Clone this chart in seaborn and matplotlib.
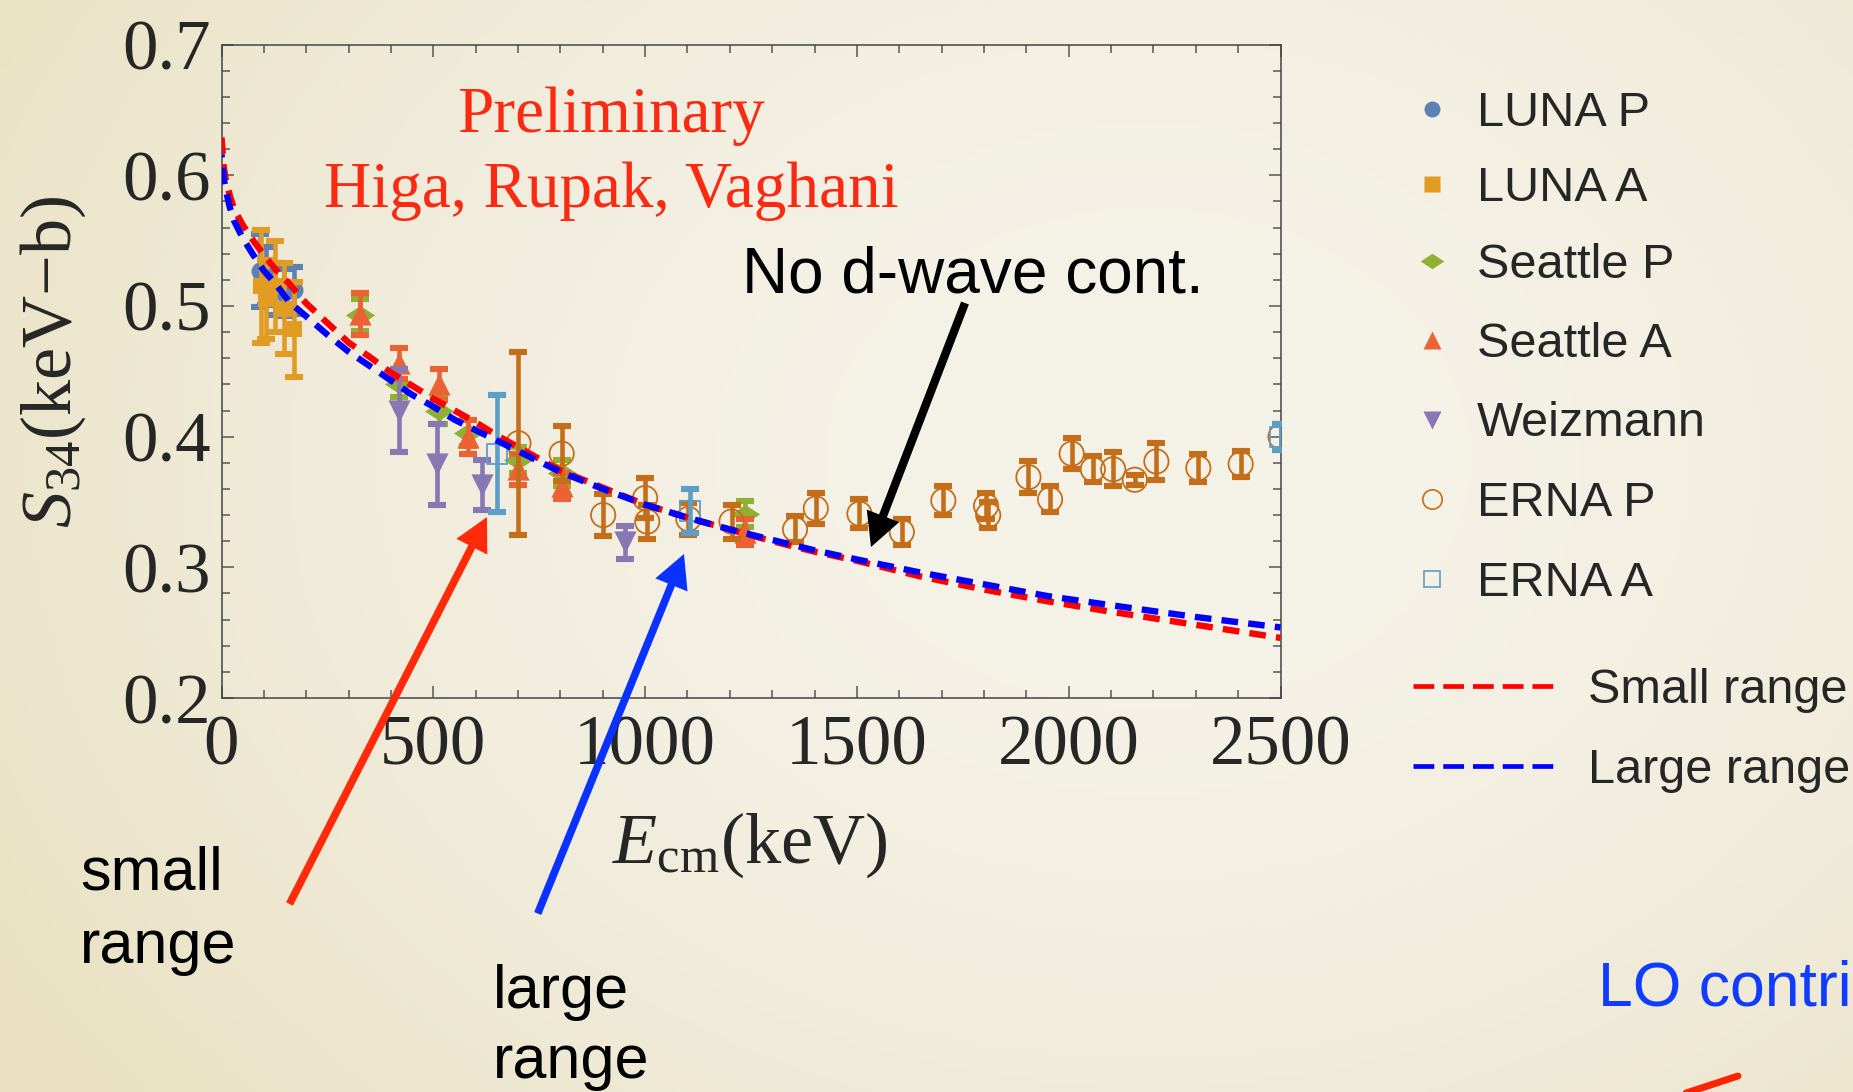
import numpy as np
import matplotlib
matplotlib.use("Agg")
import matplotlib.pyplot as plt
import seaborn as sns
from matplotlib.lines import Line2D
from matplotlib.patches import FancyArrowPatch, ArrowStyle
from matplotlib.ticker import MultipleLocator, FixedLocator, FixedFormatter

# ---------------- data ----------------
luna_p_E = [92, 106, 126, 148, 170]
luna_p_S = [0.527, 0.523, 0.513, 0.510, 0.512]
luna_p_err = [0.028, 0.022, 0.020, 0.018, 0.018]

luna_a_E = [93, 106, 126, 148, 170]
luna_a_S = [0.515, 0.505, 0.515, 0.498, 0.482]
luna_a_err = [0.043, 0.030, 0.035, 0.035, 0.036]

seattle_p_E = [327, 420, 513, 582, 701, 803, 1236]
seattle_p_S = [0.493, 0.440, 0.420, 0.403, 0.382, 0.372, 0.341]
seattle_p_err = [0.012, 0.010, 0.010, 0.010, 0.010, 0.010, 0.010]

seattle_a_E = [327, 420, 513, 582, 701, 803, 1236]
seattle_a_S = [0.494, 0.456, 0.440, 0.400, 0.375, 0.362, 0.327]
seattle_a_err = [0.016, 0.012, 0.012, 0.013, 0.012, 0.010, 0.010]

weiz_E = [420, 508, 614, 953]
weiz_S = [0.420, 0.379, 0.363, 0.319]
weiz_err = [0.032, 0.031, 0.019, 0.013]

erna_p_E = [701, 803, 901, 1000, 1005, 1102, 1204, 1354, 1403, 1506, 1606,
            1704, 1805, 1810, 1905, 1956, 2007, 2057, 2105, 2156, 2207,
            2306, 2406, 2500]
erna_p_S = [0.395, 0.387, 0.340, 0.353, 0.335, 0.337, 0.335, 0.329, 0.345,
            0.341, 0.327, 0.351, 0.347, 0.340, 0.369, 0.352, 0.387, 0.375,
            0.375, 0.367, 0.381, 0.376, 0.379, 0.400]
erna_p_err = [0.070, 0.021, 0.016, 0.015, 0.013, 0.012, 0.013, 0.010, 0.012,
              0.011, 0.010, 0.011, 0.010, 0.010, 0.012, 0.010, 0.012, 0.010,
              0.013, 0.004, 0.014, 0.011, 0.010, 0.010]

erna_a_E = [650, 1105, 2500]
erna_a_S = [0.387, 0.343, 0.400]
erna_a_err = [0.045, 0.017, 0.010]

curve_E = [0, 5, 10, 20, 30, 50, 75, 100, 130, 160, 200, 250, 300, 350, 400,
           450, 500, 550, 600, 650, 700, 800, 900, 1000, 1100, 1200, 1300,
           1400, 1500, 1650, 1800, 1950, 2100, 2300, 2500]
small_range = [0.629, 0.607, 0.597, 0.584, 0.574, 0.562, 0.550, 0.539, 0.527,
               0.517, 0.502, 0.487, 0.472, 0.461, 0.449, 0.439, 0.429, 0.420,
               0.411, 0.401, 0.392, 0.374, 0.361, 0.348, 0.338, 0.329, 0.320,
               0.312, 0.305, 0.293, 0.283, 0.274, 0.266, 0.256, 0.246]
large_range = [0.616, 0.598, 0.589, 0.575, 0.565, 0.552, 0.539, 0.527, 0.516,
               0.503, 0.492, 0.478, 0.465, 0.454, 0.443, 0.432, 0.423, 0.413,
               0.405, 0.397, 0.389, 0.373, 0.360, 0.348, 0.338, 0.329, 0.321,
               0.313, 0.306, 0.296, 0.287, 0.278, 0.271, 0.262, 0.254]

x_ticks = [0, 500, 1000, 1500, 2000, 2500]
x_tick_labels = ["0", "500", "1000", "1500", "2000", "2500"]
y_ticks = [0.2, 0.3, 0.4, 0.5, 0.6, 0.7]
y_tick_labels = ["0.2", "0.3", "0.4", "0.5", "0.6", "0.7"]

series_names = ["LUNA P", "LUNA A", "Seattle P", "Seattle A", "Weizmann",
                "ERNA P", "ERNA A"]
curve_names = ["Small range", "Large range"]

# ---------------- style ----------------
sns.set_style("ticks")
plt.rcParams["font.family"] = ["Liberation Serif", "DejaVu Serif"]
plt.rcParams["mathtext.fontset"] = "custom"
plt.rcParams["mathtext.rm"] = "Liberation Serif"
plt.rcParams["mathtext.it"] = "Liberation Serif:italic"

W, H = 1853, 1092
fig = plt.figure(figsize=(W / 100, H / 100), dpi=100)


def fx(x):
    return x / W


def fy(y):
    return 1 - y / H


# background (slide texture)
bg = fig.add_axes([0, 0, 1, 1], zorder=-10)
yy, xx = np.mgrid[0:1:220j, 0:1:370j]
w = np.clip(((xx - 0.62) / 0.72) ** 2 + ((yy - 0.42) / 0.95) ** 2, 0, 1)
light = np.array([245, 242, 232]) / 255
dark = np.array([233, 225, 194]) / 255
img = light + (dark - light) * w[..., None]
bg.imshow(img, extent=[0, 1, 0, 1], aspect="auto", origin="upper")
bg.axis("off")

ax = fig.add_axes([fx(221.5), fy(698), 1059 / W, 653.4 / H])
ax.set_facecolor("none")

# marker definitions
diamond = [(-1.3, 0), (0, 0.85), (1.3, 0), (0, -0.85), (-1.3, 0)]
styles = [
    dict(color="#5e81b5", marker="o", ms=13, hollow=False),
    dict(color="#e19c24", marker="s", ms=12, hollow=False),
    dict(color="#8fb032", marker=diamond, ms=21, hollow=False),
    dict(color="#eb6235", marker="^", ms=16, hollow=False),
    dict(color="#8778b3", marker="v", ms=16, hollow=False),
    dict(color="#c56e1a", marker="o", ms=17.5, hollow=True),
    dict(color="#5d9ec7", marker="s", ms=14.5, hollow=True),
]
datasets = [
    (luna_p_E, luna_p_S, luna_p_err),
    (luna_a_E, luna_a_S, luna_a_err),
    (seattle_p_E, seattle_p_S, seattle_p_err),
    (seattle_a_E, seattle_a_S, seattle_a_err),
    (weiz_E, weiz_S, weiz_err),
    (erna_p_E, erna_p_S, erna_p_err),
    (erna_a_E, erna_a_S, erna_a_err),
]

for i, ((E, S, err), st) in enumerate(zip(datasets, styles)):
    z = 3 + i
    ax.errorbar(E, S, yerr=err, fmt="none", ecolor=st["color"],
                elinewidth=3.3, capsize=6.6, capthick=4.4, zorder=z)
    if st["hollow"]:
        sns.scatterplot(x=E, y=S, ax=ax, marker=st["marker"],
                        s=st["ms"] ** 2, facecolors="none",
                        edgecolor=st["color"], linewidth=1.3, zorder=z + 0.5,
                        legend=False)
    else:
        sns.scatterplot(x=E, y=S, ax=ax, marker=st["marker"],
                        s=st["ms"] ** 2, color=st["color"], linewidth=0,
                        zorder=z + 0.5, legend=False)

# theory curves
sns.lineplot(x=curve_E, y=small_range, ax=ax, color="#ff0000", lw=4.6,
             linestyle=(0, (2.6, 1.6)), zorder=20, estimator=None, sort=False)
sns.lineplot(x=curve_E, y=large_range, ax=ax, color="#0000ff", lw=4.6,
             linestyle=(2.1, (2.6, 1.6)), zorder=21, estimator=None, sort=False)

ax.set_xlim(0, 2500)
ax.set_ylim(0.2, 0.7)
ax.xaxis.set_major_locator(FixedLocator(x_ticks))
ax.xaxis.set_major_formatter(FixedFormatter(x_tick_labels))
ax.yaxis.set_major_locator(FixedLocator(y_ticks))
ax.yaxis.set_major_formatter(FixedFormatter(y_tick_labels))
ax.xaxis.set_minor_locator(MultipleLocator(100))
ax.yaxis.set_minor_locator(MultipleLocator(0.02))
ax.tick_params(which="both", direction="in", top=True, right=True,
               color="#555555", width=1.1)
ax.tick_params(which="major", length=8.5, labelsize=51)
ax.tick_params(which="minor", length=6)
ax.tick_params(axis="x", pad=12)
ax.tick_params(axis="y", pad=8)
for sp in ax.spines.values():
    sp.set_color("#444444")
    sp.set_linewidth(1.1)
    sp.set_visible(True)

ax.set_xlabel(r"$E_{\rm cm}$(keV)", fontsize=52)
ax.xaxis.set_label_coords(0.499, -0.225)
ax.xaxis.label.set_va("center")
ax.set_ylabel(r"$S_{34}$(keV−b)", fontsize=52)
ax.yaxis.set_label_coords(-0.159, 0.515)
ax.yaxis.label.set_va("center")

# annotations
red_txt = "#fa2a12"
fig.text(fx(611), fy(132), "Preliminary", color=red_txt, fontsize=47,
         ha="center", va="baseline", family="Liberation Serif")
fig.text(fx(611), fy(207), "Higa, Rupak, Vaghani", color=red_txt, fontsize=47,
         ha="center", va="baseline", family="Liberation Serif")
fig.text(fx(742), fy(293), "No d-wave cont.", color="black", fontsize=46,
         ha="left", va="baseline", family="Liberation Sans")
fig.text(fx(80), fy(890), "small", color="black", fontsize=44,
         ha="left", va="baseline", family="Liberation Sans")
fig.text(fx(80), fy(963), "range", color="black", fontsize=44,
         ha="left", va="baseline", family="Liberation Sans")
fig.text(fx(493), fy(1008), "large", color="black", fontsize=44,
         ha="left", va="baseline", family="Liberation Sans")
fig.text(fx(493), fy(1078), "range", color="black", fontsize=44,
         ha="left", va="baseline", family="Liberation Sans")
fig.text(fx(1598), fy(1006), "LO contri", color="#0f3cff", fontsize=45,
         ha="left", va="baseline", family="Liberation Sans")


def arrow(tail, tip, color, tw=5.5):
    st = ArrowStyle.Simple(head_length=24, head_width=25, tail_width=tw)
    a = FancyArrowPatch((fx(tail[0]), fy(tail[1])), (fx(tip[0]), fy(tip[1])),
                        arrowstyle=st, mutation_scale=1, color=color, lw=0,
                        shrinkA=0, shrinkB=0, zorder=30)
    fig.add_artist(a)


arrow((965, 303), (871, 547), "black", 6.0)
arrow((289.5, 904), (487, 517), "#ff2a0a")
arrow((537.7, 913.5), (684, 554), "#0a32ff")
fig.add_artist(Line2D([fx(1680), fx(1738)], [fy(1095), fy(1076)],
                      color="#ff2200", lw=5))

# legend (manual)
rows = [108.7, 184.4, 261.2, 340.4, 419.5, 498.7, 579]
leg_ms = [11.5, 11, 17, 13.5, 13.5, 14, 12]
for name, st, ry, ms in zip(series_names, styles, rows, leg_ms):
    if st["hollow"]:
        m = Line2D([fx(1432)], [fy(ry)], marker=st["marker"], ms=ms,
                   mfc="none", mec=st["color"], mew=1.2, ls="none")
    else:
        m = Line2D([fx(1432)], [fy(ry)], marker=st["marker"], ms=ms,
                   mfc=st["color"], mec="none", ls="none")
    fig.add_artist(m)
    fig.text(fx(1477), fy(ry + 17), name, fontsize=35, ha="left",
             va="baseline", family="Liberation Sans")

for name, col, ry in zip(curve_names, ["#ff0000", "#0000ff"], [686, 766]):
    fig.add_artist(Line2D([fx(1413), fx(1553)], [fy(ry), fy(ry)], color=col,
                          lw=3.4, ls=(0, (4.4, 1.9))))
    fig.text(fx(1588), fy(ry + 17), name, fontsize=35, ha="left",
             va="baseline", family="Liberation Sans")

fig.savefig("out.png", dpi=100)
